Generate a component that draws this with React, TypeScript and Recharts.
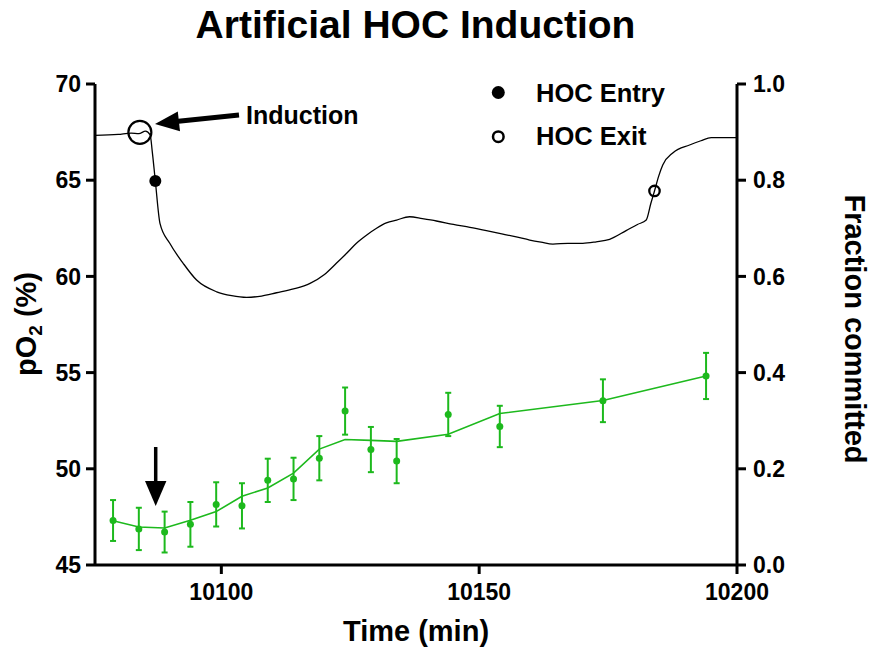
import React from 'react';
import { ComposedChart, Line, Scatter, XAxis, YAxis, ErrorBar } from 'recharts';

// pO2 trace (left axis)
const traceTime = [
  10075.5, 10080, 10082.5, 10084, 10085.3, 10086.2, 10086.6, 10087.2, 10088.1, 10090,
  10092.6, 10095.2, 10099.1, 10102, 10104.9, 10107.8, 10110.7, 10114, 10117.2, 10120,
  10122.3, 10124.3, 10126.2, 10128.2, 10130.1, 10132, 10134, 10136.5, 10139, 10141.7,
  10145, 10148.2, 10151.4, 10154.6, 10157.2, 10159.8, 10162, 10164.3, 10167.2, 10170.1,
  10172.7, 10175.3, 10178.5, 10180.7, 10182.4, 10183.3, 10184, 10184.8, 10185.6, 10187.6,
  10190.8, 10193, 10195, 10200,
];
const tracePO2 = [
  67.33, 67.38, 67.45, 67.42, 67.55, 67.35, 66.5, 64.96, 62.76, 61.72,
  60.68, 59.81, 59.2, 59.0, 58.91, 58.98, 59.15, 59.35, 59.64, 60.1,
  60.68, 61.2, 61.72, 62.15, 62.5, 62.78, 62.93, 63.1, 63.0, 62.88,
  62.7, 62.55, 62.38, 62.2, 62.05, 61.89, 61.78, 61.68, 61.72, 61.72,
  61.8, 61.93, 62.38, 62.7, 62.93, 63.8, 64.44, 65.2, 65.79, 66.43,
  66.83, 67.05, 67.21, 67.21,
];

// markers on the pO2 trace
const inductionPoint = { t: 10084.2, v: 67.49 };
const entryPoint = { t: 10087.2, v: 64.96 };
const exitPoint = { t: 10184, v: 64.44 };

// Fraction committed (right axis)
const fracTime = [
  10079, 10084, 10089, 10094, 10099, 10104, 10109, 10114, 10119, 10124,
  10129, 10134, 10144, 10154, 10174, 10194,
];
const fracMean = [
  0.0925, 0.075, 0.0685, 0.0845, 0.126, 0.123, 0.176, 0.179, 0.222, 0.32,
  0.24, 0.216, 0.313, 0.288, 0.3415, 0.393,
];
const fracErr = [
  0.0425, 0.044, 0.0425, 0.0465, 0.046, 0.047, 0.045, 0.044, 0.046, 0.049,
  0.047, 0.046, 0.045, 0.043, 0.0445, 0.048,
];
const fracFit = [
  0.092, 0.079, 0.077, 0.093, 0.111, 0.143, 0.16, 0.191, 0.241, 0.261,
  0.259, 0.257, 0.272, 0.315, 0.342, 0.393,
];

const xTicks = [10100, 10150, 10200];
const leftTicks = [45, 50, 55, 60, 65, 70];
const rightTicks = [0, 0.2, 0.4, 0.6, 0.8, 1.0];

const traceData = traceTime.map((t, i) => ({ t, v: tracePO2[i] }));
const fracData = fracTime.map((t, i) => ({ t, v: fracMean[i], err: fracErr[i] }));
const fitData = fracTime.map((t, i) => ({ t, v: fracFit[i] }));

const GREEN = '#1DB91D';
const FONT = '"Liberation Sans", Arial, Helvetica, sans-serif';
const tickStyle = { fill: '#000', fontSize: 23, fontWeight: 700, fontFamily: FONT };

export default function App() {
  return (
    <div style={{ position: 'absolute', left: 0, top: 0, width: 870, height: 653, background: '#fff' }}>
      <ComposedChart
        width={870}
        height={653}
        margin={{ top: 84, right: 73, bottom: 48, left: 35 }}
      >
        <XAxis
          xAxisId="x"
          dataKey="t"
          type="number"
          domain={[10075.5, 10200]}
          ticks={xTicks}
          allowDataOverflow
          height={40}
          axisLine={{ stroke: '#000', strokeWidth: 3 }}
          tickLine={{ stroke: '#000', strokeWidth: 3 }}
          tickSize={9}
          tickMargin={10}
          tick={tickStyle}
        />
        <YAxis
          yAxisId="left"
          orientation="left"
          type="number"
          domain={[45, 70]}
          ticks={leftTicks}
          width={60}
          axisLine={{ stroke: '#000', strokeWidth: 3 }}
          tickLine={{ stroke: '#000', strokeWidth: 3 }}
          tickSize={9}
          tickMargin={5}
          tick={tickStyle}
        />
        <YAxis
          yAxisId="right"
          orientation="right"
          type="number"
          domain={[0, 1]}
          ticks={rightTicks}
          width={60}
          axisLine={{ stroke: '#000', strokeWidth: 3 }}
          tickLine={{ stroke: '#000', strokeWidth: 3 }}
          tickSize={9}
          tickMargin={7}
          tick={tickStyle}
          tickFormatter={(v: number) => v.toFixed(1)}
        />
        <Line
          xAxisId="x"
          yAxisId="left"
          data={traceData}
          dataKey="v"
          type="monotone"
          stroke="#000"
          strokeWidth={1.3}
          dot={false}
          isAnimationActive={false}
        />
        <Line
          xAxisId="x"
          yAxisId="right"
          data={fitData}
          dataKey="v"
          type="linear"
          stroke={GREEN}
          strokeWidth={1.6}
          dot={false}
          isAnimationActive={false}
        />
        <Scatter
          xAxisId="x"
          yAxisId="right"
          data={fracData}
          dataKey="v"
          fill={GREEN}
          isAnimationActive={false}
          shape={(p: any) => <circle cx={p.cx} cy={p.cy} r={3.5} fill={GREEN} />}
        >
          <ErrorBar dataKey="err" direction="y" width={3} stroke={GREEN} strokeWidth={2} isAnimationActive={false} />
        </Scatter>
        <Scatter
          xAxisId="x"
          yAxisId="left"
          data={[inductionPoint]}
          dataKey="v"
          isAnimationActive={false}
          shape={(p: any) => <circle cx={p.cx} cy={p.cy} r={11.5} fill="none" stroke="#000" strokeWidth={2.2} />}
        />
        <Scatter
          xAxisId="x"
          yAxisId="left"
          data={[entryPoint]}
          dataKey="v"
          isAnimationActive={false}
          shape={(p: any) => <circle cx={p.cx} cy={p.cy} r={6} fill="#000" />}
        />
        <Scatter
          xAxisId="x"
          yAxisId="left"
          data={[exitPoint]}
          dataKey="v"
          isAnimationActive={false}
          shape={(p: any) => <circle cx={p.cx} cy={p.cy} r={5.2} fill="none" stroke="#000" strokeWidth={2.3} />}
        />
      </ComposedChart>
      <svg
        width={870}
        height={653}
        style={{ position: 'absolute', left: 0, top: 0, pointerEvents: 'none' }}
        fontFamily={FONT}
        fontWeight={700}
      >
        <text x={415.5} y={37.5} textAnchor="middle" fontSize={39} fill="#000">
          Artificial HOC Induction
        </text>
        <text x={416} y={641} textAnchor="middle" fontSize={29} fill="#000">
          Time (min)
        </text>
        <text x={36} y={324} textAnchor="middle" fontSize={29} fill="#000" transform="rotate(-90 36 324)">
          pO<tspan fontSize={19} dy={6}>2</tspan>
          <tspan dy={-6}> (%)</tspan>
        </text>
        <text x={845} y={329} textAnchor="middle" fontSize={29} fill="#000" transform="rotate(90 845 329)">
          Fraction committed
        </text>
        {/* legend */}
        <circle cx={498.3} cy={92.5} r={6.5} fill="#000" />
        <text x={536} y={101.5} fontSize={25.5} fill="#000">HOC Entry</text>
        <circle cx={498.3} cy={136.7} r={5.3} fill="none" stroke="#000" strokeWidth={2.5} />
        <text x={536} y={145} fontSize={25.5} fill="#000">HOC Exit</text>
        {/* Induction annotation */}
        <text x={246} y={124} fontSize={25} fill="#000">Induction</text>
        <line x1={239} y1={115} x2={176} y2={121.6} stroke="#000" strokeWidth={5} />
        <polygon points="155,124 177.8,111.5 180,131.3" fill="#000" />
        {/* downward arrow */}
        <line x1={155.7} y1={447} x2={155.7} y2={484} stroke="#000" strokeWidth={3.5} />
        <polygon points="145,481 166.4,481 155.7,506" fill="#000" />
      </svg>
    </div>
  );
}
